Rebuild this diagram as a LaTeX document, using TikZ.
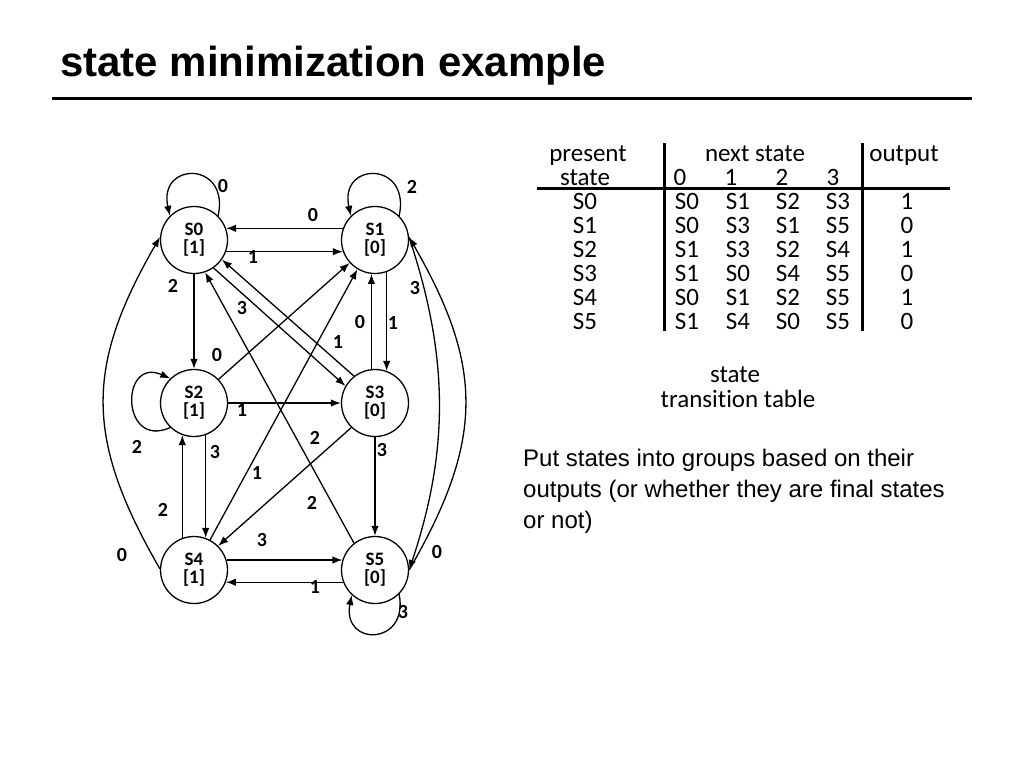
\documentclass[tikz,border=0pt]{standalone}
\usepackage{fontspec}
\setmainfont{Liberation Sans}
\newfontfamily\calibri[Ligatures={NoCommon}]{Carlito}
\usetikzlibrary{arrows.meta}
\tikzset{
  statenode/.style={draw, circle, line width=1.3pt, minimum size=67pt, inner sep=0pt, align=center, font=\calibri\bfseries\fontsize{19}{18}\selectfont},
  arr/.style={line width=1.3pt, -{Latex[length=10pt,width=7.5pt]}},
  lbl/.style={inner sep=0pt, font=\calibri\bfseries\fontsize{20}{24}\selectfont},
  cell/.style={anchor=base, inner sep=0pt, font=\calibri\fontsize{25}{24}\selectfont},
  txtline/.style={anchor=base west, inner sep=0pt, font=\fontsize{24}{31}\selectfont},
  tabrule/.style={line width=3pt},
}

\begin{document}
\begin{tikzpicture}[x=1pt,y=1pt]%
\useasboundingbox (0,0) rectangle (1024,-768);%
% title
\node[anchor=base west, inner sep=0pt, font=\bfseries\fontsize{42}{50}\selectfont] (title) at (60,-77) {state minimization example};%
\draw[tabrule] (52,-98) -- (972,-98);%
% states
\node[statenode] (S0) at (194,-240) {S0\\{}[1]};%
\node[statenode] (S1) at (375,-240) {S1\\{}[0]};%
\node[statenode] (S2) at (194,-403) {S2\\{}[1]};%
\node[statenode] (S3) at (375,-403) {S3\\{}[0]};%
\node[statenode] (S4) at (194,-570) {S4\\{}[1]};%
\node[statenode] (S5) at (375,-570) {S5\\{}[0]};%
% transitions
\draw[arr] (S0.45) .. controls +(12,55) and +(-12,55) .. (S0.135);%
\draw[arr] (S0.-20) -- (S1.200);%
\draw[arr] (S0.south) -- (S2.north);%
\draw[arr] (S0.-55) -- (S3.150);%
\draw[arr] (S1.160) -- (S0.20);%
\draw[arr] (S1.-70) -- (S3.70);%
\draw[arr] (S1.45) .. controls +(12,55) and +(-12,55) .. (S1.135);%
\draw[arr] (S1.5) .. controls +(40,-120) and +(40,120) .. (S5.0);%
\draw[arr] (S2.44) -- (S1.222);%
\draw[arr] (S2.east) -- (S3.west);%
\draw[arr] (S2.226) .. controls +(-50,-22) and +(-50,22) .. (S2.134);%
\draw[arr] (S2.-70) -- (S4.70);%
\draw[arr] (S3.96) -- (S1.264);%
\draw[arr] (S3.128) -- (S0.-35);%
\draw[arr] (S3.226) -- (S4.45);%
\draw[arr] (S3.south) -- (S5.north);%
\draw[arr] (S4.178) .. controls +(-75,130) and +(-75,-130) .. (S0.175);%
\draw[arr] (S4.62) -- (S1.239);%
\draw[arr] (S4.110) -- (S2.250);%
\draw[arr] (S4.17) -- (S5.163);%
\draw[arr] (S5.0) .. controls +(75,130) and +(75,-130) .. (S1.5);%
\draw[arr] (S5.201) -- (S4.-21);%
\draw[arr] (S5.128) -- (S0.-71);%
\draw[arr] (S5.-45) .. controls +(10,-52) and +(-10,-52) .. (S5.-133);%
% input labels
\node[lbl] (l00) at (223,-186) {0};%
\node[lbl] (l01) at (253,-257) {1};%
\node[lbl] (l02) at (173,-286) {2};%
\node[lbl] (l03) at (242,-308) {3};%
\node[lbl] (l10) at (313,-215) {0};%
\node[lbl] (l11) at (393,-323) {1};%
\node[lbl] (l12) at (412,-187) {2};%
\node[lbl] (l13) at (415,-288) {3};%
\node[lbl] (l20) at (217,-355) {0};%
\node[lbl] (l21) at (242,-410) {1};%
\node[lbl] (l22) at (137,-447) {2};%
\node[lbl] (l23) at (215,-452) {3};%
\node[lbl] (l30) at (360,-322) {0};%
\node[lbl] (l31) at (338,-342) {1};%
\node[lbl] (l32) at (315,-438) {2};%
\node[lbl] (l33) at (382,-450) {3};%
\node[lbl] (l40) at (122,-555) {0};%
\node[lbl] (l41) at (257,-473) {1};%
\node[lbl] (l42) at (163,-510) {2};%
\node[lbl] (l43) at (262,-540) {3};%
\node[lbl] (l50) at (437,-552) {0};%
\node[lbl] (l51) at (315,-587) {1};%
\node[lbl] (l52) at (312,-503) {2};%
\node[lbl] (l53) at (403,-612) {3};%
% transition table
\node[cell] (hp) at (588,-161) {present};%
\node[cell] (hs) at (585,-185) {state};%
\node[cell] (hn) at (755,-161) {next state};%
\node[cell] (h0) at (680,-185) {0};%
\node[cell] (h1) at (731,-185) {1};%
\node[cell] (h2) at (782,-185) {2};%
\node[cell] (h3) at (833,-185) {3};%
\node[cell] (ho) at (904,-161) {output};%
\draw[tabrule] (537,-188) -- (950,-188);%
\draw[tabrule] (664,-143) -- (664,-331);%
\draw[tabrule] (862,-143) -- (862,-331);%
\node[cell] (r0) at (585,-209) {S0};%
\node[cell] (n00) at (687,-209) {S0};%
\node[cell] (n01) at (738,-209) {S1};%
\node[cell] (n02) at (788,-209) {S2};%
\node[cell] (n03) at (838,-209) {S3};%
\node[cell] (o0) at (907,-209) {1};%
\node[cell] (r1) at (585,-233) {S1};%
\node[cell] (n10) at (687,-233) {S0};%
\node[cell] (n11) at (738,-233) {S3};%
\node[cell] (n12) at (788,-233) {S1};%
\node[cell] (n13) at (838,-233) {S5};%
\node[cell] (o1) at (907,-233) {0};%
\node[cell] (r2) at (585,-257) {S2};%
\node[cell] (n20) at (687,-257) {S1};%
\node[cell] (n21) at (738,-257) {S3};%
\node[cell] (n22) at (788,-257) {S2};%
\node[cell] (n23) at (838,-257) {S4};%
\node[cell] (o2) at (907,-257) {1};%
\node[cell] (r3) at (585,-281) {S3};%
\node[cell] (n30) at (687,-281) {S1};%
\node[cell] (n31) at (738,-281) {S0};%
\node[cell] (n32) at (788,-281) {S4};%
\node[cell] (n33) at (838,-281) {S5};%
\node[cell] (o3) at (907,-281) {0};%
\node[cell] (r4) at (585,-305) {S4};%
\node[cell] (n40) at (687,-305) {S0};%
\node[cell] (n41) at (738,-305) {S1};%
\node[cell] (n42) at (788,-305) {S2};%
\node[cell] (n43) at (838,-305) {S5};%
\node[cell] (o4) at (907,-305) {1};%
\node[cell] (r5) at (585,-329) {S5};%
\node[cell] (n50) at (687,-329) {S1};%
\node[cell] (n51) at (738,-329) {S4};%
\node[cell] (n52) at (788,-329) {S0};%
\node[cell] (n53) at (838,-329) {S5};%
\node[cell] (o5) at (907,-329) {0};%
\node[cell] (cap1) at (735,-382) {state};%
\node[cell] (cap2) at (738,-407) {transition table};%
% remark
\node[txtline] (rem1) at (523,-466) {Put states into groups based on their};%
\node[txtline] (rem2) at (523,-497) {outputs (or whether they are final states};%
\node[txtline] (rem3) at (523,-528) {or not)};%
\end{tikzpicture}
\end{document}
